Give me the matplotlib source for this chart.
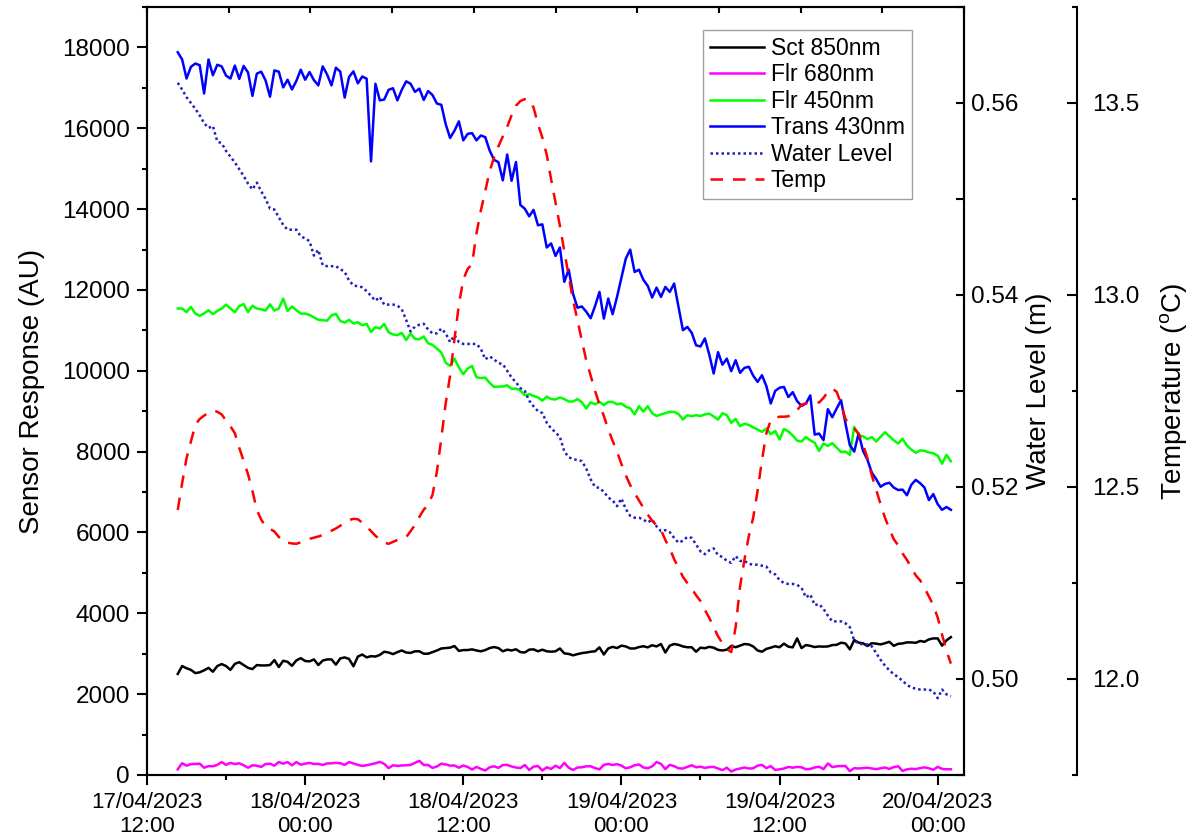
import matplotlib
matplotlib.use("Agg")
import matplotlib.pyplot as plt
import matplotlib.dates as mdates
from matplotlib.ticker import MultipleLocator, FormatStrFormatter, NullFormatter
import pandas as pd

plt.rcParams['font.family'] = ['Liberation Sans', 'DejaVu Sans']
plt.rcParams['mathtext.fontset'] = 'custom'
plt.rcParams['mathtext.rm'] = 'Liberation Sans'
plt.rcParams['mathtext.it'] = 'Liberation Sans:italic'

# one sample every 20 minutes
times = pd.date_range("2023-04-17 14:20", periods=177, freq="20min")

sct_850 = [
    2500, 2695, 2640, 2600, 2520, 2540, 2590, 2650, 2554, 2695,
    2744, 2695, 2600, 2750, 2790, 2720, 2650, 2620, 2720, 2710,
    2710, 2720, 2843, 2670, 2826, 2800, 2700, 2835, 2890, 2820,
    2810, 2860, 2720, 2830, 2859, 2859, 2730, 2884, 2909, 2870,
    2690, 2930, 2980, 2909, 2940, 2930, 2970, 3049, 3030, 2990,
    3040, 3080, 3030, 3020, 3060, 3060, 3000, 3000, 3040, 3080,
    3130, 3140, 3150, 3190, 3070, 3090, 3091, 3108, 3080, 3060,
    3090, 3140, 3165, 3140, 3060, 3100, 3080, 3110, 3040, 3030,
    3100, 3108, 3060, 3100, 3060, 3050, 3060, 3130, 3008, 2995,
    2960, 2990, 3015, 3030, 3049, 3060, 3157, 2980, 3130, 3170,
    3140, 3200, 3180, 3130, 3130, 3165, 3185, 3157, 3210, 3180,
    3240, 3030, 3200, 3240, 3220, 3180, 3160, 3160, 3049, 3150,
    3135, 3170, 3150, 3095, 3080, 3100, 3190, 3160, 3200, 3240,
    3230, 3180, 3080, 3050, 3120, 3150, 3185, 3160, 3250, 3175,
    3157, 3379, 3140, 3214, 3195, 3165, 3180, 3175, 3180, 3214,
    3220, 3272, 3255, 3108, 3338, 3275, 3258, 3190, 3260, 3250,
    3230, 3260, 3295, 3195, 3245, 3255, 3280, 3280, 3270, 3315,
    3295, 3354, 3379, 3379, 3200, 3330, 3410,
]

flr_680 = [
    140, 290, 230, 270, 272, 280, 180, 220, 215, 250,
    320, 250, 300, 272, 290, 240, 180, 240, 230, 200,
    270, 280, 230, 320, 280, 320, 240, 320, 255, 280,
    300, 272, 272, 250, 285, 289, 300, 290, 250, 320,
    285, 250, 225, 240, 265, 290, 325, 275, 170, 240,
    225, 235, 240, 250, 300, 350, 247, 247, 175, 210,
    280, 260, 230, 235, 180, 235, 200, 135, 200, 150,
    110, 190, 215, 175, 245, 250, 210, 185, 170, 247,
    125, 206, 222, 110, 190, 150, 230, 170, 300, 180,
    124, 185, 190, 215, 215, 170, 140, 250, 272, 247,
    268, 230, 165, 190, 240, 260, 185, 165, 215, 320,
    275, 145, 250, 220, 165, 160, 200, 240, 190, 205,
    175, 195, 200, 160, 120, 180, 85, 135, 160, 185,
    160, 165, 230, 250, 170, 220, 125, 141, 160, 200,
    180, 200, 190, 141, 150, 185, 205, 145, 285, 195,
    215, 222, 222, 95, 170, 160, 170, 180, 160, 145,
    165, 185, 150, 195, 215, 100, 140, 155, 145, 170,
    188, 165, 130, 200, 150, 141, 141,
]

flr_450 = [
    11540, 11540, 11450, 11580, 11415, 11360, 11420, 11497, 11400, 11480,
    11539, 11637, 11540, 11450, 11600, 11650, 11450, 11610, 11539, 11520,
    11490, 11645, 11490, 11539, 11786, 11480, 11590, 11500, 11415, 11415,
    11380, 11320, 11260, 11250, 11240, 11370, 11410, 11233, 11190, 11260,
    11170, 11200, 11126, 11160, 10960, 11080, 11044, 11160, 10950, 10900,
    10880, 10940, 10760, 10920, 10790, 10780, 10850, 10680, 10640, 10550,
    10450, 10200, 10120, 10300, 10080, 9915, 10055, 10120, 9840, 9820,
    9830, 9700, 9600, 9610, 9610, 9640, 9550, 9560, 9510, 9396,
    9420, 9380, 9340, 9260, 9360, 9300, 9290, 9340, 9300, 9240,
    9240, 9300, 9220, 9066, 9220, 9173, 9230, 9150, 9230, 9230,
    9170, 9190, 9110, 9070, 8920, 9124, 8990, 9124, 8950, 8880,
    8920, 8950, 8983, 8983, 8930, 8794, 8900, 8876, 8901, 8880,
    8920, 8940, 8870, 8790, 8950, 8900, 8710, 8810, 8630, 8690,
    8660, 8600, 8547, 8488, 8571, 8430, 8510, 8300, 8560, 8500,
    8400, 8270, 8250, 8360, 8280, 8220, 8018, 8201, 8140, 8210,
    8100, 7990, 8000, 7920, 8612, 8400, 8380, 8310, 8360, 8250,
    8365, 8480, 8380, 8280, 8200, 8320, 8150, 8050, 7970, 8030,
    8020, 7980, 7960, 7900, 7700, 7920, 7760,
]

trans_430 = [
    17880, 17700, 17230, 17520, 17600, 17560, 16860, 17700, 17310, 17570,
    17530, 17300, 17230, 17550, 17220, 17540, 17380, 16800, 17350, 17400,
    17180, 16780, 17430, 17400, 17010, 17200, 16960, 17170, 17448, 17200,
    17390, 17190, 17060, 17531, 17330, 17060, 17498, 17400, 16760, 17270,
    17407, 17110, 17280, 17226, 15181, 17100, 16690, 16710, 16950, 16990,
    16690, 16950, 17160, 17100, 16900, 16980, 16700, 16920, 16820, 16610,
    16580, 16100, 15760, 15940, 16170, 15700, 15860, 15880, 15700, 15820,
    15780, 15450, 15220, 15160, 14711, 15350, 14700, 15164, 14100, 14010,
    13821, 13980, 13600, 13622, 13050, 13150, 12840, 13050, 12200, 12503,
    11900, 11560, 11590, 11460, 11300, 11600, 11950, 11291, 11786, 11400,
    11826, 12300, 12775, 12998, 12444, 12500, 12250, 12100, 11811, 12058,
    11826, 12074, 11950, 12157, 11579, 11003, 11085, 10940, 10630, 10600,
    10800, 10400, 9932, 10460, 10150, 10300, 9990, 10261, 9950, 10070,
    10100, 9880, 9725, 9890, 9620, 9190, 9500, 9580, 9600, 9350,
    9470, 9250, 9130, 9190, 9390, 8420, 8447, 8283, 9050, 8850,
    9066, 9272, 8700, 8159, 8000, 8447, 8020, 7800, 7480, 7320,
    7130, 7200, 7230, 7110, 7050, 7060, 6920, 7180, 7300, 7220,
    7110, 6800, 6950, 6700, 6560, 6630, 6560,
]

water_level = [
    0.5621, 0.5614, 0.5606, 0.5600, 0.5594, 0.5587, 0.5579, 0.5574, 0.5576, 0.5560,
    0.5558, 0.5550, 0.5544, 0.5538, 0.5531, 0.5524, 0.5516, 0.5510, 0.5517, 0.5508,
    0.5500, 0.5490, 0.5489, 0.5481, 0.5473, 0.5468, 0.5468, 0.5468, 0.5461, 0.5459,
    0.5456, 0.5441, 0.5447, 0.5431, 0.5430, 0.5430, 0.5430, 0.5427, 0.5424, 0.5415,
    0.5410, 0.5409, 0.5408, 0.5404, 0.5399, 0.5394, 0.5398, 0.5390, 0.5390, 0.5390,
    0.5389, 0.5385, 0.5374, 0.5362, 0.5367, 0.5369, 0.5370, 0.5364, 0.5360, 0.5360,
    0.5365, 0.5360, 0.5351, 0.5358, 0.5351, 0.5349, 0.5349, 0.5349, 0.5349, 0.5344,
    0.5333, 0.5336, 0.5333, 0.5329, 0.5328, 0.5321, 0.5314, 0.5309, 0.5303, 0.5300,
    0.5290, 0.5284, 0.5279, 0.5277, 0.5267, 0.5261, 0.5257, 0.5252, 0.5237, 0.5231,
    0.5229, 0.5228, 0.5227, 0.5219, 0.5208, 0.5200, 0.5199, 0.5195, 0.5189, 0.5186,
    0.5180, 0.5188, 0.5177, 0.5170, 0.5168, 0.5168, 0.5166, 0.5163, 0.5166, 0.5159,
    0.5154, 0.5155, 0.5153, 0.5147, 0.5142, 0.5144, 0.5148, 0.5147, 0.5140, 0.5133,
    0.5130, 0.5134, 0.5136, 0.5129, 0.5127, 0.5123, 0.5121, 0.5128, 0.5123, 0.5123,
    0.5120, 0.5119, 0.5119, 0.5118, 0.5117, 0.5111, 0.5109, 0.5103, 0.5100, 0.5099,
    0.5099, 0.5098, 0.5095, 0.5085, 0.5088, 0.5077, 0.5078, 0.5073, 0.5066, 0.5060,
    0.5060, 0.5060, 0.5058, 0.5054, 0.5040, 0.5037, 0.5036, 0.5036, 0.5034, 0.5027,
    0.5020, 0.5014, 0.5009, 0.5005, 0.5002, 0.4998, 0.4994, 0.4991, 0.4990, 0.4989,
    0.4989, 0.4989, 0.4987, 0.4980, 0.4989, 0.4984, 0.4982,
]

temp = [
    12.440, 12.510, 12.575, 12.618, 12.662, 12.677, 12.686, 12.693, 12.699, 12.696,
    12.689, 12.673, 12.658, 12.640, 12.602, 12.568, 12.533, 12.490, 12.440, 12.415,
    12.397, 12.391, 12.384, 12.370, 12.358, 12.355, 12.353, 12.352, 12.356, 12.361,
    12.365, 12.368, 12.371, 12.375, 12.380, 12.386, 12.392, 12.399, 12.408, 12.414,
    12.417, 12.416, 12.407, 12.397, 12.385, 12.373, 12.363, 12.355, 12.352, 12.357,
    12.362, 12.365, 12.369, 12.385, 12.401, 12.422, 12.441, 12.453, 12.480, 12.540,
    12.627, 12.718, 12.790, 12.885, 12.975, 13.040, 13.068, 13.080, 13.160, 13.220,
    13.270, 13.322, 13.358, 13.387, 13.413, 13.438, 13.468, 13.493, 13.505, 13.510,
    13.508, 13.488, 13.445, 13.410, 13.365, 13.301, 13.240, 13.180, 13.114, 13.050,
    12.985, 12.935, 12.880, 12.830, 12.790, 12.750, 12.715, 12.685, 12.650, 12.620,
    12.592, 12.560, 12.530, 12.505, 12.484, 12.465, 12.446, 12.428, 12.412, 12.400,
    12.388, 12.362, 12.340, 12.312, 12.290, 12.266, 12.250, 12.235, 12.218, 12.203,
    12.180, 12.159, 12.135, 12.111, 12.093, 12.078, 12.070, 12.135, 12.240, 12.310,
    12.372, 12.420, 12.490, 12.570, 12.640, 12.674, 12.680, 12.683, 12.683, 12.684,
    12.692, 12.700, 12.714, 12.718, 12.720, 12.720, 12.720, 12.732, 12.748, 12.756,
    12.748, 12.717, 12.677, 12.663, 12.652, 12.639, 12.612, 12.575, 12.530, 12.492,
    12.455, 12.420, 12.391, 12.364, 12.348, 12.327, 12.310, 12.290, 12.270, 12.257,
    12.237, 12.215, 12.192, 12.160, 12.115, 12.074, 12.040,
]

X_TICK_FS = 16
Y_TICK_FS = 17.5
LABEL_FS = 20
SPINE_W = 1.5
LINE_W = 1.8

fig = plt.figure(figsize=(12.01, 8.40), dpi=100)
ax = fig.add_axes([0.1224, 0.0774, 0.6803, 0.9143])

ax.plot(times, sct_850, color="black", lw=LINE_W, label="Sct 850nm")
ax.plot(times, flr_680, color="#FF00FF", lw=LINE_W, label="Flr 680nm")
ax.plot(times, flr_450, color="#00FF00", lw=LINE_W, label="Flr 450nm")
ax.plot(times, trans_430, color="#0000FF", lw=LINE_W, label="Trans 430nm")

ax.set_xlim(pd.Timestamp("2023-04-17 12:00"), pd.Timestamp("2023-04-20 02:00"))
ax.set_ylim(0, 19000)
ax.yaxis.set_major_locator(MultipleLocator(2000))
ax.yaxis.set_minor_locator(MultipleLocator(1000))
ax.xaxis.set_major_locator(mdates.HourLocator(byhour=[0, 12]))
ax.xaxis.set_minor_locator(mdates.HourLocator(byhour=[6, 18]))
ax.xaxis.set_major_formatter(mdates.DateFormatter("%d/%m/%Y\n%H:%M"))
ax.tick_params(axis="both", which="major", direction="out", length=7.2,
               width=SPINE_W, pad=5)
ax.tick_params(axis="both", which="minor", direction="out", length=3.6, width=SPINE_W)
ax.tick_params(axis="x", labelsize=X_TICK_FS, top=False)
ax.tick_params(axis="y", labelsize=Y_TICK_FS, right=False)
for lbl in ax.get_xticklabels():
    lbl.set_linespacing(1.2)
ax.set_ylabel("Sensor Response (AU)", fontsize=LABEL_FS)
ax.yaxis.set_label_coords(-0.125, 0.5)
for sp in ax.spines.values():
    sp.set_linewidth(SPINE_W)

# top frame ticks (evenly spaced, no labels)
ax_top = ax.twiny()
ax_top.set_xlim(0, 10)
ax_top.xaxis.set_major_locator(MultipleLocator(1))
ax_top.xaxis.set_major_formatter(NullFormatter())
ax_top.tick_params(axis="x", which="major", direction="in", length=4.5,
                   width=SPINE_W, top=True, bottom=False)
for sp in ax_top.spines.values():
    sp.set_visible(False)

# water level axis
ax_wl = ax.twinx()
ax_wl.plot(times, water_level, color="#1F1FC0", lw=LINE_W, linestyle=(0, (1, 1.2)),
           label="Water Level")
ax_wl.set_ylim(0.49, 0.57)
ax_wl.yaxis.set_major_locator(MultipleLocator(0.02))
ax_wl.yaxis.set_minor_locator(MultipleLocator(0.01))
ax_wl.yaxis.set_major_formatter(FormatStrFormatter("%.2f"))
ax_wl.tick_params(axis="y", which="major", direction="in", length=5.5,
                  width=SPINE_W, labelsize=Y_TICK_FS, pad=5)
ax_wl.tick_params(axis="y", which="minor", direction="in", length=5.5, width=SPINE_W)
ax_wl.set_ylabel("Water Level (m)", fontsize=LABEL_FS)
ax_wl.yaxis.set_label_coords(1.076, 0.5)
for sp in ax_wl.spines.values():
    sp.set_linewidth(SPINE_W)

# temperature axis
ax_t = ax.twinx()
ax_t.spines["right"].set_position(("axes", 1.1385))
for side in ["left", "top", "bottom"]:
    ax_t.spines[side].set_visible(False)
ax_t.spines["right"].set_linewidth(SPINE_W)
ax_t.plot(times, temp, color="#FF0000", lw=LINE_W, linestyle=(0, (5, 4)), label="Temp")
ax_t.set_ylim(11.75, 13.75)
ax_t.yaxis.set_major_locator(MultipleLocator(0.5))
ax_t.yaxis.set_minor_locator(MultipleLocator(0.25))
ax_t.yaxis.set_major_formatter(FormatStrFormatter("%.1f"))
ax_t.tick_params(axis="y", which="major", direction="in", length=7.2,
                 width=SPINE_W, labelsize=Y_TICK_FS, pad=11)
ax_t.tick_params(axis="y", which="minor", direction="in", length=3.6, width=SPINE_W)
ax_t.set_ylabel(r"Temperature ($^{\mathrm{o}}$C)", fontsize=LABEL_FS)
ax_t.yaxis.set_label_coords(1.2375, 0.5)

handles = []
labels = []
for a in (ax, ax_wl, ax_t):
    h, l = a.get_legend_handles_labels()
    handles += h
    labels += l
leg = ax_t.legend(handles, labels, loc="upper right", bbox_to_anchor=(0.936, 0.970),
                  borderaxespad=0, fontsize=16.5, handlelength=2.35, handletextpad=0.3,
                  labelspacing=0.15, borderpad=0.3, fancybox=False, framealpha=1,
                  edgecolor="#A0A0A0")
leg.get_frame().set_linewidth(1.0)

fig.savefig("out.png", dpi=100)
